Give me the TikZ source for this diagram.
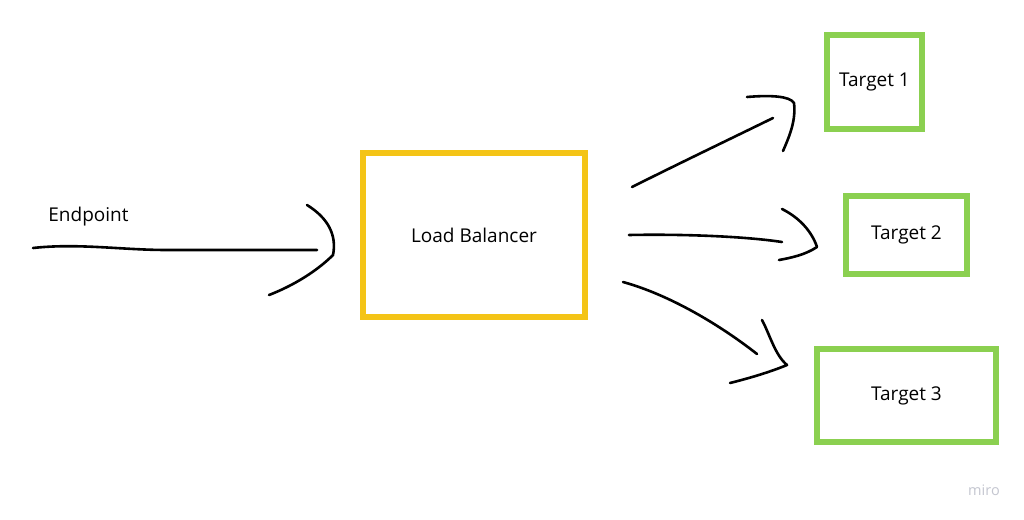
\documentclass[tikz,border=0pt]{standalone}
\usepackage{fontspec}
\setmainfont{Open Sans}
\usetikzlibrary{positioning}
\definecolor{lbyellow}{RGB}{244,196,22}
\definecolor{tggreen}{RGB}{139,208,80}
\definecolor{mirogray}{RGB}{196,198,208}
\tikzset{
  lbbox/.style={draw=lbyellow, line width=6pt, inner sep=0pt,
    font=\fontsize{19}{22}\selectfont},
  tgbox/.style={draw=tggreen, line width=6pt, inner sep=0pt,
    font=\fontsize{19}{22}\selectfont},
  stroke/.style={line width=2.6pt, line cap=round, line join=round},
}

\begin{document}
\begin{tikzpicture}[x=1pt,y=-1pt]
    \useasboundingbox[fill=white] (0,0) rectangle (1024,519);
    % boxes
    \node[lbbox, minimum width=222pt, minimum height=164pt] (lb) at (474,235) {Load Balancer};
    \node[tgbox, minimum width=95pt, minimum height=94pt] (t1) at (874.5,82) {Target 1};
    \node[tgbox, minimum width=121pt, minimum height=78pt] (t2) at (906.5,235) {Target 2};
    \node[tgbox, minimum width=179pt, minimum height=93pt] (t3) at (906.5,395.5) {Target 3};
    \node[font=\fontsize{19}{22}\selectfont] (ep) at (88.5,217) {Endpoint};
    \node[font=\fontsize{14.5}{16}\selectfont, text=mirogray] (miro) at (984,490) {miro};
    % hand drawn arrows
    \coordinate (eps) at (33,248);
    \coordinate (epe) at (317,250);
    \coordinate (eph) at (333,255);
    \draw[stroke] (eps) .. controls +(45,-5) and +(-45,0) .. (167,250) -- (epe);
    \draw[stroke] (eph) ++(-26,-50) .. controls +(21,13) and +(4,-20) .. (eph)
      .. controls +(-15,15) and +(26,-10) .. ++(-64,40);
    \coordinate (a1s) at (632,187);
    \coordinate (a1e) at (773,118);
    \coordinate (a1h) at (794,103);
    \draw[stroke] (a1s) .. controls +(50,-25) and +(-45,22) .. (a1e);
    \draw[stroke] (a1h) ++(-47,-6) .. controls +(23,-2) and +(-4,-7) .. (a1h)
      .. controls +(2,17) and +(7,-16) .. ++(-11,48);
    \coordinate (a2s) at (629,235);
    \coordinate (a2e) at (782,242);
    \coordinate (a2h) at (817,247);
    \draw[stroke] (a2s) .. controls +(50,-1) and +(-40,-6) .. (a2e);
    \draw[stroke] (a2h) ++(-35,-38) .. controls +(18,9) and +(-5,-15) .. (a2h)
      .. controls +(-12,8) and +(11,-2) .. ++(-38,13);
    \coordinate (a3s) at (623,282);
    \coordinate (a3e) at (757,354);
    \coordinate (a3h) at (787,365);
    \draw[stroke] (a3s) .. controls +(47,13) and +(-37,-29) .. (a3e);
    \draw[stroke] (a3h) ++(-25,-45) .. controls +(8,15) and +(-12,-10) .. (a3h)
      .. controls +(-17,7) and +(20,-5) .. ++(-57,18);
\end{tikzpicture}
\end{document}
